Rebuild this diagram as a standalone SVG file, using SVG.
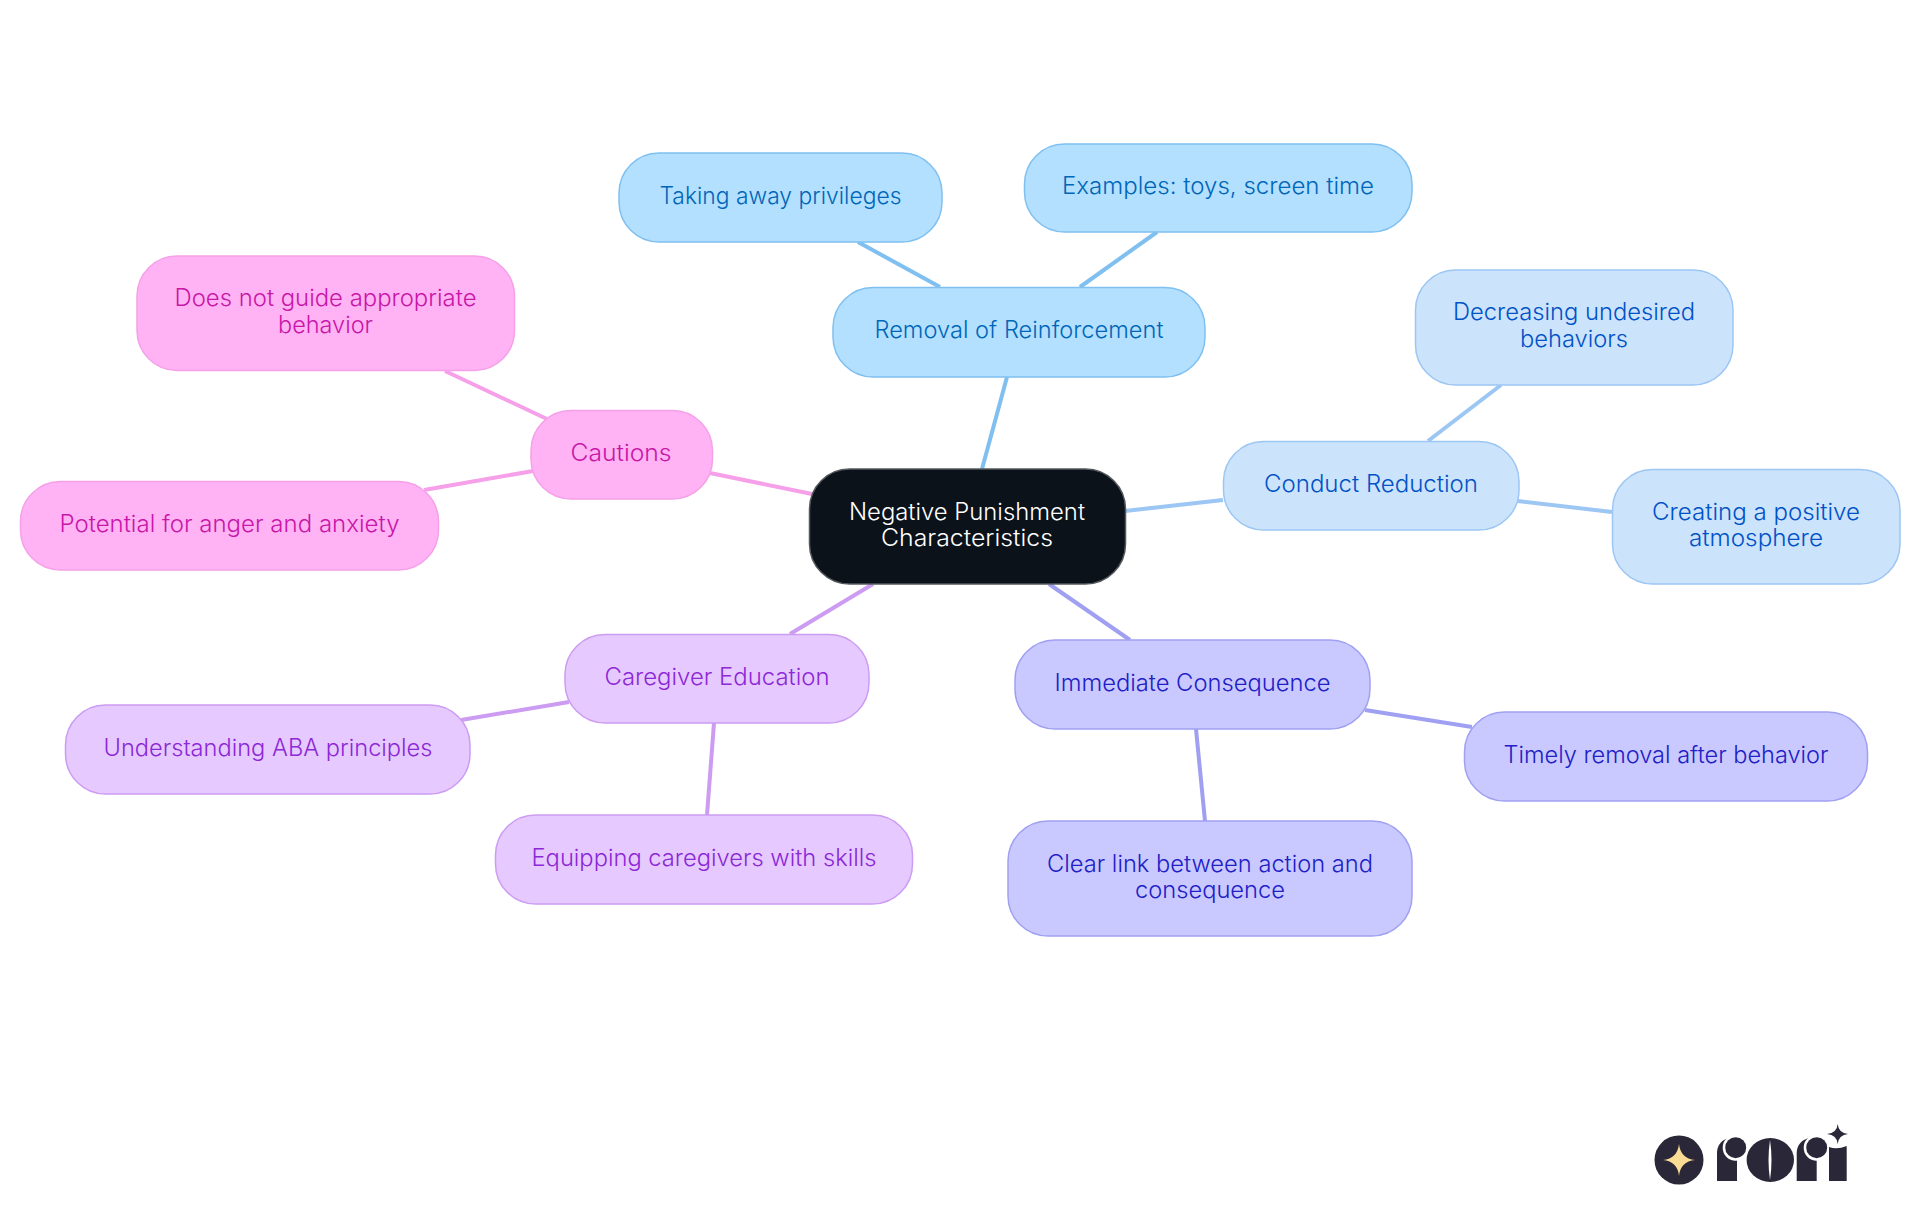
<svg xmlns="http://www.w3.org/2000/svg" width="1920" height="1215" viewBox="0 0 1920 1215">
<style>
text{font-family:"Inter","Noto Sans","Liberation Sans",sans-serif;font-size:23.5px;font-weight:300;text-anchor:middle}
rect.n{stroke-width:1.5}
line{stroke-width:4}
.a rect{fill:#b3e0ff;stroke:#7fc0f0}.a text{fill:#0066b8}
.b rect{fill:#cce3fc;stroke:#9cc6f3}.b text{fill:#0052c6}
.c rect{fill:#c9c9ff;stroke:#a0a0f2}.c text{fill:#2020c6}
.d rect{fill:#e6caff;stroke:#cc9cf2}.d text{fill:#8c28d6}
.e rect{fill:#ffb3f5;stroke:#f5a0e8}.e text{fill:#c816a8}
.z rect{fill:#0b121a;stroke:#55595e}.z text{fill:#fff}
.k{fill:#2a2838}
</style>
<rect width="1920" height="1215" fill="#fff"/>
<g id="connectors">
<line x1="1007" y1="377" x2="982" y2="469" stroke="#7fc0f0"/>
<line x1="858" y1="242" x2="940" y2="287" stroke="#7fc0f0"/>
<line x1="1157" y1="232" x2="1080" y2="287" stroke="#7fc0f0"/>
<line x1="1125" y1="511" x2="1223" y2="500" stroke="#9cc6f3"/>
<line x1="1501" y1="385" x2="1428" y2="441" stroke="#9cc6f3"/>
<line x1="1518" y1="501" x2="1612" y2="512" stroke="#9cc6f3"/>
<line x1="1049" y1="584" x2="1130" y2="640" stroke="#a0a0f2"/>
<line x1="1365" y1="710" x2="1472" y2="727" stroke="#a0a0f2"/>
<line x1="1196" y1="729" x2="1205" y2="821" stroke="#a0a0f2"/>
<line x1="873" y1="584" x2="790" y2="634" stroke="#cc9cf2"/>
<line x1="569" y1="702" x2="461" y2="720" stroke="#cc9cf2"/>
<line x1="714" y1="723" x2="707" y2="815" stroke="#cc9cf2"/>
<line x1="812" y1="494" x2="710" y2="473" stroke="#f5a0e8"/>
<line x1="445" y1="371" x2="547" y2="419" stroke="#f5a0e8"/>
<line x1="533" y1="471" x2="424" y2="490" stroke="#f5a0e8"/>
</g>
<g id="center" class="z"><rect class="n" x="809.5" y="469" width="316" height="115" rx="40"/><text x="967" y="519.5" textLength="236" lengthAdjust="spacingAndGlyphs">Negative Punishment</text><text x="967" y="546" textLength="172" lengthAdjust="spacingAndGlyphs">Characteristics</text></g>
<g id="removal" class="a"><rect class="n" x="833" y="287.5" width="372" height="89.5" rx="40"/><text x="1019" y="338" textLength="289" lengthAdjust="spacingAndGlyphs">Removal of Reinforcement</text></g>
<g id="taking" class="a"><rect class="n" x="619" y="153" width="323" height="89" rx="40"/><text x="780.5" y="204" textLength="242" lengthAdjust="spacingAndGlyphs">Taking away privileges</text></g>
<g id="examples" class="a"><rect class="n" x="1024.5" y="144" width="387.5" height="88" rx="40"/><text x="1218" y="194" textLength="312" lengthAdjust="spacingAndGlyphs">Examples: toys, screen time</text></g>
<g id="conduct" class="b"><rect class="n" x="1223.5" y="441.5" width="295.5" height="88.5" rx="40"/><text x="1371" y="492" textLength="214" lengthAdjust="spacingAndGlyphs">Conduct Reduction</text></g>
<g id="decreasing" class="b"><rect class="n" x="1415.5" y="270" width="317.5" height="115" rx="40"/><text x="1574" y="320" textLength="242" lengthAdjust="spacingAndGlyphs">Decreasing undesired</text><text x="1574" y="347" textLength="108" lengthAdjust="spacingAndGlyphs">behaviors</text></g>
<g id="creating" class="b"><rect class="n" x="1612.5" y="469.5" width="287.5" height="114.5" rx="40"/><text x="1756" y="520" textLength="208" lengthAdjust="spacingAndGlyphs">Creating a positive</text><text x="1756" y="546" textLength="134" lengthAdjust="spacingAndGlyphs">atmosphere</text></g>
<g id="immediate" class="c"><rect class="n" x="1015" y="640" width="355" height="89" rx="40"/><text x="1192.5" y="691" textLength="276" lengthAdjust="spacingAndGlyphs">Immediate Consequence</text></g>
<g id="timely" class="c"><rect class="n" x="1464.5" y="712" width="403" height="89" rx="40"/><text x="1666" y="763" textLength="325" lengthAdjust="spacingAndGlyphs">Timely removal after behavior</text></g>
<g id="clear" class="c"><rect class="n" x="1008" y="821" width="404" height="115" rx="40"/><text x="1210" y="872" textLength="326" lengthAdjust="spacingAndGlyphs">Clear link between action and</text><text x="1210" y="898" textLength="150" lengthAdjust="spacingAndGlyphs">consequence</text></g>
<g id="caregiver" class="d"><rect class="n" x="565" y="634.5" width="304" height="88.5" rx="40"/><text x="717" y="685" textLength="225" lengthAdjust="spacingAndGlyphs">Caregiver Education</text></g>
<g id="understanding" class="d"><rect class="n" x="65.5" y="705" width="404.5" height="89" rx="40"/><text x="268" y="756" textLength="329" lengthAdjust="spacingAndGlyphs">Understanding ABA principles</text></g>
<g id="equipping" class="d"><rect class="n" x="495.5" y="815" width="417" height="89" rx="40"/><text x="704" y="866" textLength="345" lengthAdjust="spacingAndGlyphs">Equipping caregivers with skills</text></g>
<g id="cautions" class="e"><rect class="n" x="531" y="410.5" width="181.5" height="88.5" rx="40"/><text x="621" y="461" textLength="101" lengthAdjust="spacingAndGlyphs">Cautions</text></g>
<g id="doesnot" class="e"><rect class="n" x="137" y="256" width="377.5" height="114.5" rx="40"/><text x="325.5" y="306" textLength="302" lengthAdjust="spacingAndGlyphs">Does not guide appropriate</text><text x="325.5" y="333" textLength="95" lengthAdjust="spacingAndGlyphs">behavior</text></g>
<g id="potential" class="e"><rect class="n" x="20.5" y="481.5" width="418" height="88.5" rx="40"/><text x="229.5" y="532" textLength="340" lengthAdjust="spacingAndGlyphs">Potential for anger and anxiety</text></g>
<g id="logo">
<circle class="k" cx="1679" cy="1160" r="24.5"/>
<path d="M1679 1144 Q1680.5 1158.5 1695 1160 Q1680.5 1161.5 1679 1176 Q1677.5 1161.5 1663 1160 Q1677.5 1158.5 1679 1144Z" fill="#fbdc94"/>
<path class="k" d="M1717 1181V1153C1717 1145 1722 1139 1730 1138H1737V1181Z"/>
<circle cx="1735.7" cy="1147.7" r="13" fill="#fff"/>
<circle class="k" cx="1735.7" cy="1147.7" r="10.5"/>
<path class="k" d="M1796.7 1181V1153C1796.7 1145 1802 1139 1810 1138H1816.7V1181Z"/>
<circle cx="1816.7" cy="1147.7" r="13" fill="#fff"/>
<circle class="k" cx="1816.7" cy="1147.7" r="10.5"/>
<ellipse class="k" cx="1770.3" cy="1160" rx="23.7" ry="22"/>
<path d="M1770 1140Q1767 1160 1770 1180Q1773 1160 1770 1140Z" fill="#fff"/>
<path class="k" d="M1829 1181V1147Q1837 1150 1846.7 1146V1181Z"/>
<path class="k" d="M1837.7 1124Q1838.5 1133 1848 1134Q1838.5 1135 1837.7 1144Q1837 1135 1827 1134Q1837 1133 1837.7 1124Z"/>
</g>
</svg>
